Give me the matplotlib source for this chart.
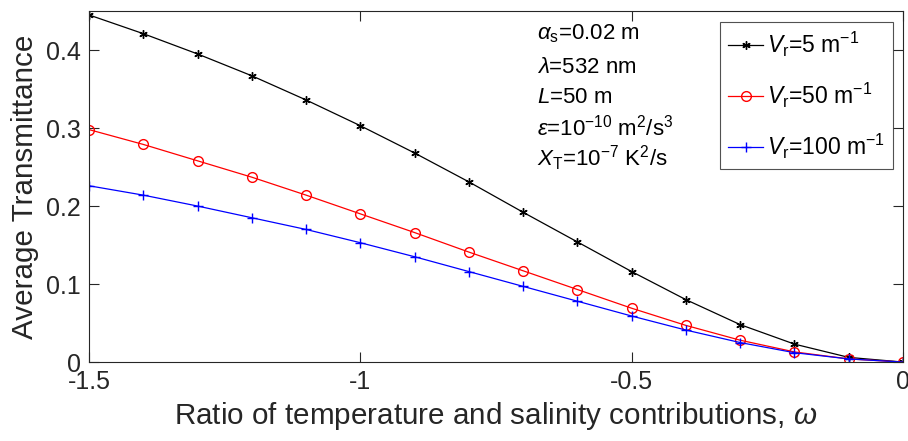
import matplotlib
matplotlib.use("Agg")
import matplotlib.pyplot as plt
import numpy as np

omega = [-1.5, -1.4, -1.3, -1.2, -1.1, -1.0, -0.9, -0.8, -0.7, -0.6, -0.5, -0.4, -0.3, -0.2, -0.1, 0.0]
vr5 = [0.445, 0.421, 0.395, 0.367, 0.336, 0.303, 0.268, 0.231, 0.192, 0.154, 0.116, 0.080, 0.048, 0.023, 0.006, 0.0]
vr50 = [0.298, 0.279, 0.258, 0.237, 0.214, 0.190, 0.166, 0.141, 0.117, 0.093, 0.069, 0.047, 0.028, 0.013, 0.004, 0.0]
vr100 = [0.226, 0.214, 0.200, 0.185, 0.170, 0.153, 0.135, 0.116, 0.097, 0.078, 0.059, 0.041, 0.025, 0.012, 0.004, 0.0]
labels = [r"$V_\mathregular{r}$=5 m$^{-1}$", r"$V_\mathregular{r}$=50 m$^{-1}$", r"$V_\mathregular{r}$=100 m$^{-1}$"]
xticks = [-1.5, -1, -0.5, 0]
xticklabels = ["-1.5", "-1", "-0.5", "0"]
yticks = [0, 0.1, 0.2, 0.3, 0.4]
yticklabels = ["0", "0.1", "0.2", "0.3", "0.4"]

plt.rcParams['font.family'] = ['Liberation Sans', 'DejaVu Sans']
plt.rcParams['mathtext.fontset'] = 'custom'
plt.rcParams['mathtext.rm'] = 'Liberation Sans'
plt.rcParams['mathtext.it'] = 'Liberation Sans:italic'

fig = plt.figure(figsize=(9.08, 4.41), dpi=100)
ax = fig.add_axes([0.098, 0.179, 0.8965, 0.796])

ax.plot(omega, vr5, color='black', marker=(6, 2, 0), markersize=6, lw=0.9, label=labels[0])
ax.plot(omega, vr50, color='red', marker='o', markersize=7, mfc='none', lw=0.9, label=labels[1])
ax.plot(omega, vr100, color='blue', marker='+', markersize=7, lw=0.9, label=labels[2])

ax.set_xlim(-1.5, 0)
ax.set_ylim(0, 0.45)
ax.set_xticks(xticks)
ax.set_xticklabels(xticklabels)
ax.set_yticks(yticks)
ax.set_yticklabels(yticklabels)
ax.tick_params(direction='in', labelsize=18, colors='#262626', length=7, top=True, right=True, pad=6)
for s in ax.spines.values():
    s.set_color('#262626')
    s.set_linewidth(0.8)

ax.set_xlabel(r"Ratio of temperature and salinity contributions, $\omega$", fontsize=21.3, color='#262626', labelpad=4)
ax.set_ylabel("Average Transmittance", fontsize=21.3, color='#262626', labelpad=4)
ax.yaxis.set_label_coords(-0.061, 0.5)

ann = [r"$\alpha_\mathregular{s}$=0.02 m",
       r"$\lambda$=532 nm",
       r"$L$=50 m",
       r"$\varepsilon$=10$^{-10}$ m$^2$/s$^3$",
       r"$X_\mathregular{T}$=10$^{-7}$ K$^2$/s"]
ys = [0.935, 0.84, 0.755, 0.668, 0.58]
for t, y in zip(ann, ys):
    ax.text(0.55, y, t, transform=ax.transAxes, fontsize=16, color='black', va='center')

leg = ax.legend(loc='upper right', bbox_to_anchor=(0.988, 0.969), borderaxespad=0, fontsize=16.5, frameon=True,
                fancybox=False, edgecolor='#262626', handlelength=1.5, handletextpad=0.2,
                labelspacing=0.95, borderpad=0.35)
leg.get_frame().set_linewidth(0.8)

fig.savefig("out.png", dpi=100)
